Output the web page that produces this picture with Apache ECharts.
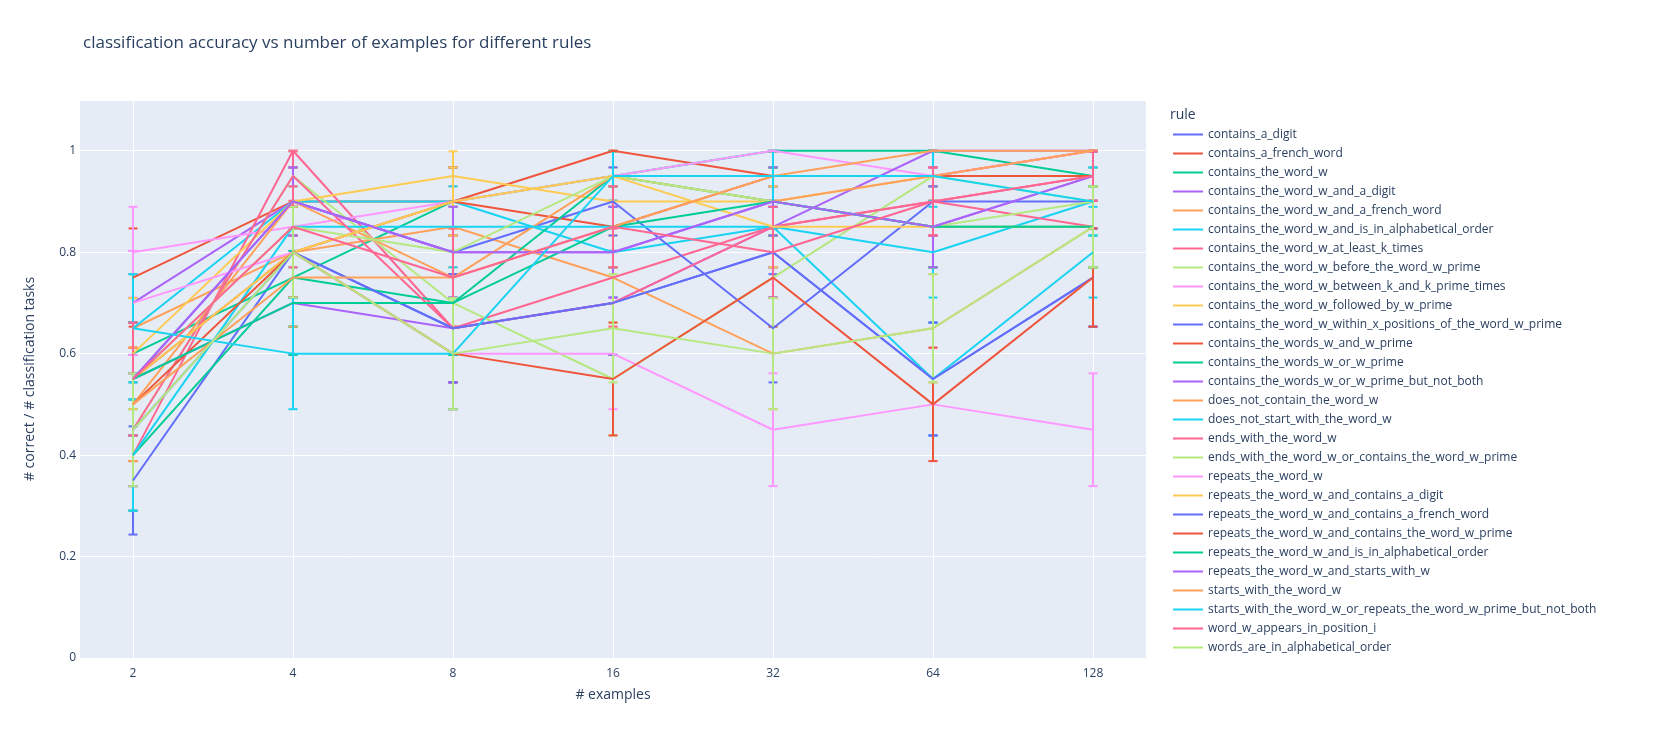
<!DOCTYPE html>
<html>
<head>
<meta charset="utf-8">
<script src="https://cdn.jsdelivr.net/npm/echarts@6/dist/echarts.min.js"></script>
<style>
  html, body { margin: 0; padding: 0; background: #fff; }
  #chart { width: 1670px; height: 739px; }
</style>
</head>
<body>
<div id="chart"></div>
<script>
// number of examples shown (x axis, log2 spaced)
var examples = [2, 4, 8, 16, 32, 64, 128];
var yTicks = [0, 0.2, 0.4, 0.6, 0.8, 1];
var N_TASKS = 20; // tasks per point, error bar = binomial std error

var rules = [
  'contains_a_digit',
  'contains_a_french_word',
  'contains_the_word_w',
  'contains_the_word_w_and_a_digit',
  'contains_the_word_w_and_a_french_word',
  'contains_the_word_w_and_is_in_alphabetical_order',
  'contains_the_word_w_at_least_k_times',
  'contains_the_word_w_before_the_word_w_prime',
  'contains_the_word_w_between_k_and_k_prime_times',
  'contains_the_word_w_followed_by_w_prime',
  'contains_the_word_w_within_x_positions_of_the_word_w_prime',
  'contains_the_words_w_and_w_prime',
  'contains_the_words_w_or_w_prime',
  'contains_the_words_w_or_w_prime_but_not_both',
  'does_not_contain_the_word_w',
  'does_not_start_with_the_word_w',
  'ends_with_the_word_w',
  'ends_with_the_word_w_or_contains_the_word_w_prime',
  'repeats_the_word_w',
  'repeats_the_word_w_and_contains_a_digit',
  'repeats_the_word_w_and_contains_a_french_word',
  'repeats_the_word_w_and_contains_the_word_w_prime',
  'repeats_the_word_w_and_is_in_alphabetical_order',
  'repeats_the_word_w_and_starts_with_w',
  'starts_with_the_word_w',
  'starts_with_the_word_w_or_repeats_the_word_w_prime_but_not_both',
  'word_w_appears_in_position_i',
  'words_are_in_alphabetical_order'
];

// accuracy per rule, one value per entry of examples
var containsADigit = [0.35, 0.8, 0.65, 0.7, 0.8, 0.55, 0.75];
var containsAFrenchWord = [0.75, 0.9, 0.9, 1.0, 0.95, 0.95, 1.0];
var containsTheWordW = [0.6, 0.75, 0.9, 0.95, 1.0, 1.0, 0.95];
var containsTheWordWAndADigit = [0.7, 0.9, 0.8, 0.8, 0.9, 0.85, 0.95];
var containsTheWordWAndAFrenchWord = [0.65, 0.8, 0.85, 0.75, 0.6, 0.65, 0.85];
var containsTheWordWAndIsInAlphabeticalOrder = [0.65, 0.9, 0.9, 0.8, 0.85, 0.55, 0.8];
var containsTheWordWAtLeastKTimes = [0.4, 1.0, 0.65, 0.75, 0.85, 0.9, 0.95];
var containsTheWordWBeforeTheWordWPrime = [0.45, 0.95, 0.7, 0.55, 0.75, 0.95, 0.9];
var containsTheWordWBetweenKAndKPrimeTimes = [0.8, 0.85, 0.9, 0.95, 1.0, 0.95, 1.0];
var containsTheWordWFollowedByWPrime = [0.6, 0.9, 0.95, 0.9, 0.9, 0.95, 0.95];
var containsTheWordWWithinXPositions = [0.55, 0.9, 0.8, 0.9, 0.65, 0.9, 0.9];
var containsTheWordsWAndWPrime = [0.55, 0.8, 0.9, 0.85, 0.95, 0.95, 0.95];
var containsTheWordsWOrWPrime = [0.4, 0.75, 0.7, 0.95, 0.9, 0.85, 0.85];
var containsTheWordsWOrWPrimeButNotBoth = [0.55, 0.7, 0.65, 0.7, 0.85, 1.0, 1.0];
var doesNotContainTheWordW = [0.5, 0.9, 0.75, 0.95, 0.9, 0.95, 1.0];
var doesNotStartWithTheWordW = [0.4, 0.85, 0.85, 0.85, 0.85, 0.8, 0.9];
var endsWithTheWordW = [0.45, 0.95, 0.65, 0.7, 0.85, 0.9, 0.85];
var endsWithWOrContainsWPrime = [0.55, 0.85, 0.8, 0.95, 0.9, 0.85, 0.9];
var repeatsTheWordW = [0.7, 0.8, 0.6, 0.6, 0.45, 0.5, 0.45];
var repeatsWAndContainsADigit = [0.55, 0.8, 0.9, 0.95, 0.85, 0.85, 0.85];
var repeatsWAndContainsAFrenchWord = [0.45, 0.8, 0.65, 0.7, 0.8, 0.55, 0.75];
var repeatsWAndContainsWPrime = [0.5, 0.8, 0.6, 0.55, 0.75, 0.5, 0.75];
var repeatsWAndIsInAlphabeticalOrder = [0.55, 0.7, 0.7, 0.85, 0.9, 0.85, 0.85];
var repeatsWAndStartsWithW = [0.55, 0.9, 0.8, 0.8, 0.9, 0.85, 0.95];
var startsWithTheWordW = [0.5, 0.75, 0.75, 0.85, 0.95, 1.0, 1.0];
var startsWithWOrRepeatsWPrime = [0.65, 0.6, 0.6, 0.95, 0.95, 0.95, 0.9];
var wordWAppearsInPositionI = [0.55, 0.85, 0.75, 0.85, 0.8, 0.9, 0.95];
var wordsAreInAlphabeticalOrder = [0.45, 0.8, 0.6, 0.65, 0.6, 0.65, 0.85];

var accuracy = [
  containsADigit, containsAFrenchWord, containsTheWordW, containsTheWordWAndADigit,
  containsTheWordWAndAFrenchWord, containsTheWordWAndIsInAlphabeticalOrder,
  containsTheWordWAtLeastKTimes, containsTheWordWBeforeTheWordWPrime,
  containsTheWordWBetweenKAndKPrimeTimes, containsTheWordWFollowedByWPrime,
  containsTheWordWWithinXPositions, containsTheWordsWAndWPrime, containsTheWordsWOrWPrime,
  containsTheWordsWOrWPrimeButNotBoth, doesNotContainTheWordW, doesNotStartWithTheWordW,
  endsWithTheWordW, endsWithWOrContainsWPrime, repeatsTheWordW, repeatsWAndContainsADigit,
  repeatsWAndContainsAFrenchWord, repeatsWAndContainsWPrime, repeatsWAndIsInAlphabeticalOrder,
  repeatsWAndStartsWithW, startsWithTheWordW, startsWithWOrRepeatsWPrime,
  wordWAppearsInPositionI, wordsAreInAlphabeticalOrder
];

var palette = ['#636efa', '#EF553B', '#00cc96', '#ab63fa', '#FFA15A',
               '#19d3f3', '#FF6692', '#B6E880', '#FF97FF', '#FECB52'];

var FONT = '"Open Sans", Verdana, Arial, sans-serif';
var TXT = '#2a3f5f';

function renderErrorBar(params, api) {
  var x = api.value(0);
  var top = api.coord([x, api.value(2)]);
  var bot = api.coord([x, api.value(1)]);
  var c = api.visual('color');
  var hw = 4.5;
  function seg(x1, y1, x2, y2) {
    return { type: 'line', shape: { x1: x1, y1: y1, x2: x2, y2: y2 },
             style: { stroke: c, lineWidth: 2, fill: null } };
  }
  return { type: 'group', children: [
    seg(top[0], top[1], bot[0], bot[1]),
    seg(top[0] - hw, top[1], top[0] + hw, top[1]),
    seg(bot[0] - hw, bot[1], bot[0] + hw, bot[1])
  ]};
}

var series = [];
rules.forEach(function (name, i) {
  var col = palette[i % palette.length];
  var vals = accuracy[i];
  var bars = vals.map(function (p, j) {
    var e = Math.sqrt(p * (1 - p) / N_TASKS);
    return [Math.log2(examples[j]), p - e, p + e];
  });
  series.push({
    type: 'custom',
    name: name + ' (err)',
    xAxisIndex: 1, yAxisIndex: 1,
    renderItem: renderErrorBar,
    itemStyle: { color: col },
    data: bars,
    silent: true
  });
  series.push({
    type: 'line',
    name: name,
    xAxisIndex: 1, yAxisIndex: 1,
    symbol: 'none',
    color: col,
    lineStyle: { width: 2, color: col },
    emphasis: { disabled: true },
    data: vals.map(function (p, j) { return [Math.log2(examples[j]), p]; })
  });
});

var chart = echarts.init(document.getElementById('chart'));
chart.setOption({
  animation: false,
  textStyle: { fontFamily: FONT },
  title: [
    { text: 'classification accuracy vs number of examples for different rules',
      left: 78, top: 30,
      textStyle: { fontFamily: FONT, fontSize: 17, fontWeight: 'normal', color: TXT } },
    { text: 'rule', left: 1165, top: 103,
      textStyle: { fontFamily: FONT, fontSize: 14, fontWeight: 'normal', color: TXT } }
  ],
  legend: {
    orient: 'vertical',
    left: 1168, top: 120,
    data: rules,
    icon: 'rect',
    itemWidth: 30, itemHeight: 2,
    itemGap: 0,
    selectedMode: false,
    textStyle: { fontFamily: FONT, fontSize: 12, color: TXT, lineHeight: 19 }
  },
  grid: [
    { left: 80, right: 524, top: 100, bottom: 81, show: true,
      backgroundColor: '#E5ECF6', borderWidth: 0 },
    { left: 133, right: 577, top: 100, bottom: 81 }
  ],
  xAxis: [
    { gridIndex: 0, type: 'value', min: 0, max: 1, show: false },
    { gridIndex: 1, type: 'value', min: 1, max: 7, interval: 1,
      name: '# examples', nameLocation: 'middle', nameGap: 30,
      nameTextStyle: { fontFamily: FONT, fontSize: 14, color: TXT },
      axisLine: { show: false }, axisTick: { show: false },
      axisLabel: { fontFamily: FONT, fontSize: 12, color: TXT, margin: 10,
        formatter: function (v) { return String(Math.pow(2, v)); } },
      splitLine: { show: true, lineStyle: { color: '#ffffff', width: 1 } } }
  ],
  yAxis: [
    { gridIndex: 0, type: 'value', min: 0, max: 1.1, interval: 0.2,
      name: '# correct / # classification tasks', nameLocation: 'middle', nameGap: 43,
      nameTextStyle: { fontFamily: FONT, fontSize: 14, color: TXT },
      axisLine: { show: false }, axisTick: { show: false },
      axisLabel: { fontFamily: FONT, fontSize: 12, color: TXT, margin: 4, showMaxLabel: false,
        formatter: function (v) {
          var r = Math.round(v * 10) / 10;
          return yTicks.indexOf(r) >= 0 ? String(r) : '';
        } },
      splitLine: { show: true, lineStyle: { color: '#ffffff', width: 1 } } },
    { gridIndex: 1, type: 'value', min: 0, max: 1.1, show: false, splitLine: { show: false } }
  ],
  series: series
});
</script>
</body>
</html>
